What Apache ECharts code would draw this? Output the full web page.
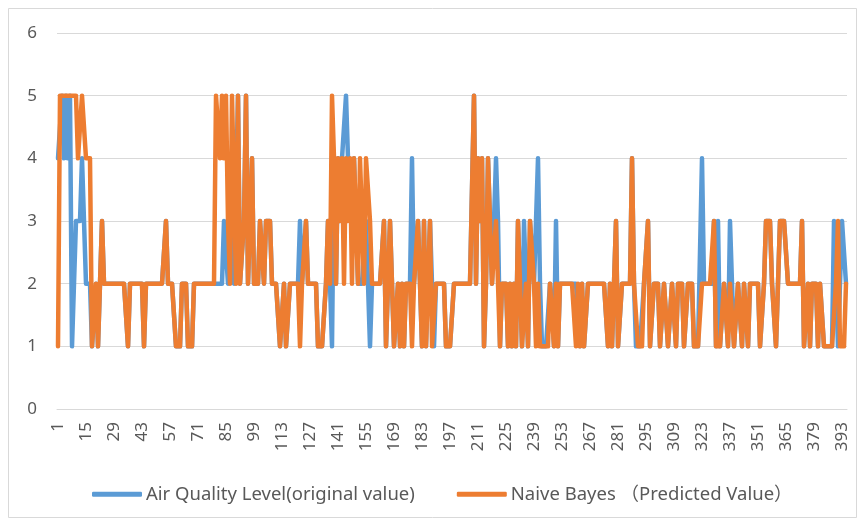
<!DOCTYPE html>
<html><head><meta charset="utf-8">
<script src="https://cdn.jsdelivr.net/npm/echarts@6/dist/echarts.min.js"></script>
<style>html,body{margin:0;padding:0;background:#fff}#c{width:862px;height:523px}</style>
</head><body><div id="c"></div>
<script>
const seriesNames = ['Air Quality Level(original value)', 'Naive Bayes （Predicted Value）'];
const yTicks = [0, 1, 2, 3, 4, 5, 6];
const categories = Array.from({length: 395}, (_, i) => String(i + 1));

const original = [
4,4,5,4,5,4,5,1,2,3,
3,3,4,3,2,2,2,1,1,2,
1,2,3,2,2,2,2,2,2,2,
2,2,2,2,2,1,2,2,2,2,
2,2,2,1,2,2,2,2,2,2,
2,2,2,2,3,2,2,2,2,1,
1,1,2,2,2,1,1,1,2,2,
2,2,2,2,2,2,2,2,2,2,
2,2,2,3,3,2,3,3,2,2,
5,2,2,3,5,2,2,4,2,2,
2,3,3,2,3,3,3,2,2,2,
2,1,1,2,1,1,2,2,2,2,
2,3,2,2,3,2,2,2,2,2,
1,1,1,1,2,3,2,1,4,2,
4,3,4,4,5,4,4,3,4,3,
2,2,2,2,3,2,1,2,2,2,
2,2,2,3,1,2,3,2,1,1,
2,1,2,1,2,2,2,4,2,2,
3,2,1,3,1,2,3,3,1,2,
2,2,2,2,1,1,1,1,2,2,
2,2,2,2,2,2,2,2,5,2,
4,3,4,1,2,4,4,2,2,4,
3,1,2,2,2,1,2,1,2,1,
3,3,1,3,2,1,3,3,2,2,
4,2,1,1,1,1,2,2,1,3,
1,2,2,2,2,2,2,2,2,2,
2,1,2,1,1,2,2,2,2,2,
2,2,2,2,2,1,2,1,2,3,
1,1,2,2,2,2,2,4,2,1,
1,1,1,2,2,3,1,1,2,2,
2,1,1,2,2,1,1,2,2,1,
2,2,2,1,1,2,2,2,1,1,
1,1,4,2,2,2,2,2,3,1,
3,1,1,2,2,1,3,2,1,1,
2,2,1,2,2,1,2,2,2,2,
2,1,1,2,3,3,3,2,2,1,
2,3,3,3,3,2,2,2,2,2,
2,2,3,1,1,2,1,2,2,2,
1,2,2,1,1,1,1,1,3,3,
1,1,3,3,2
];

const predicted = [
1,5,5,5,5,5,5,5,5,5,
4,4,5,5,4,4,4,1,1,2,
1,2,3,2,2,2,2,2,2,2,
2,2,2,2,2,1,2,2,2,2,
2,2,2,1,2,2,2,2,2,2,
2,2,2,2,3,2,2,2,2,1,
1,1,2,2,2,1,1,1,2,2,
2,2,2,2,2,2,2,2,2,5,
5,4,5,4,5,3,2,5,5,2,
5,2,2,3,5,2,2,4,2,2,
2,3,3,2,3,3,3,2,2,2,
2,1,1,2,1,1,2,2,2,2,
2,1,2,2,3,2,2,2,2,2,
1,1,1,1,2,3,2,5,4,2,
4,3,4,2,4,3,4,2,4,4,
2,4,3,2,4,4,3,2,2,2,
2,2,2,3,1,2,3,2,1,1,
2,1,2,1,2,2,2,1,2,2,
3,2,1,3,1,2,3,1,1,2,
2,2,2,2,1,1,1,1,2,2,
2,2,2,2,2,2,2,2,5,2,
4,3,4,1,2,4,4,2,2,3,
3,1,2,2,2,1,2,1,2,1,
3,3,1,1,2,1,3,3,2,1,
2,1,1,1,1,1,2,2,1,2,
1,2,2,2,2,2,2,2,2,1,
2,1,2,1,1,2,2,2,2,2,
2,2,2,2,2,1,2,1,2,3,
1,1,2,2,2,2,2,4,2,2,
1,1,1,2,2,3,1,1,2,2,
2,1,1,2,2,1,1,2,2,1,
2,2,2,1,1,2,2,2,1,1,
1,1,2,2,2,2,2,2,3,1,
1,1,1,2,2,1,2,2,1,1,
2,2,1,2,2,1,2,2,2,2,
2,1,1,2,3,3,3,2,2,1,
2,3,3,3,3,2,2,2,2,2,
2,2,3,1,1,2,1,2,2,2,
1,2,2,1,1,1,1,1,1,2,
3,1,1,1,2
];

const colors = ['#5B9BD5', '#ED7D31'];
const font = "'Noto Sans', 'Noto Sans CJK SC', sans-serif";
const chart = echarts.init(document.getElementById('c'), null, {renderer: 'canvas'});
chart.setOption({
  animation: false,
  backgroundColor: '#fff',
  graphic: [{type: 'rect', silent: true, shape: {x: 8.5, y: 8.5, width: 848, height: 509},
    style: {fill: 'none', stroke: '#d9d9d9', lineWidth: 1}}],
  grid: {left: 57, right: 15, top: 33, bottom: 114, containLabel: false},
  legend: {
    left: 87, top: 480, itemWidth: 50, itemHeight: 5, itemGap: 42, icon: 'roundRect',
    textStyle: {color: '#595959', fontSize: 18.5, fontFamily: font, padding: [0, 0, 0, -1]},
    data: seriesNames
  },
  xAxis: {
    type: 'category', data: categories, boundaryGap: true,
    axisLine: {lineStyle: {color: '#d9d9d9', width: 1}},
    axisTick: {show: false},
    axisLabel: {interval: 13, rotate: 90, color: '#595959', fontSize: 17, fontFamily: font, margin: 13}
  },
  yAxis: {
    type: 'value', min: yTicks[0], max: yTicks[yTicks.length - 1], interval: 1,
    axisLine: {show: false}, axisTick: {show: false},
    splitLine: {lineStyle: {color: '#d9d9d9', width: 1}},
    axisLabel: {color: '#595959', fontSize: 17, fontFamily: font, margin: 20}
  },
  series: [
    {name: seriesNames[0], type: 'line', data: original, symbol: 'none', color: colors[0],
     lineStyle: {width: 4.5, color: colors[0], cap: 'round', join: 'round'}},
    {name: seriesNames[1], type: 'line', data: predicted, symbol: 'none', color: colors[1],
     lineStyle: {width: 4.5, color: colors[1], cap: 'round', join: 'round'}}
  ]
});
</script></body></html>
